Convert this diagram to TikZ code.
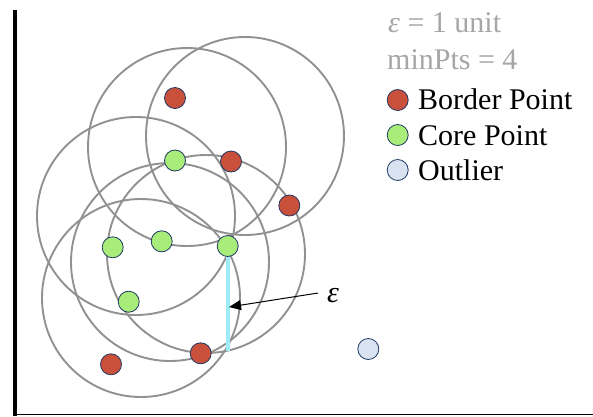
\documentclass[tikz,border=0pt]{standalone}
\usepackage{fontspec}
\setmainfont{Liberation Serif}
\usetikzlibrary{arrows.meta}
\definecolor{ringgray}{RGB}{145,145,145}
\definecolor{bordercol}{RGB}{201,80,58}
\definecolor{corecol}{RGB}{168,236,122}
\definecolor{outcol}{RGB}{217,226,241}
\definecolor{edgecol}{RGB}{32,56,100}
\definecolor{epscol}{RGB}{160,236,246}
\definecolor{txtgray}{RGB}{166,166,166}
\tikzset{
  ring/.style={circle,draw=ringgray,line width=1.9pt,minimum size=198pt,inner sep=0pt},
  pt/.style={circle,draw=edgecol,line width=0.8pt,minimum size=21pt,inner sep=0pt},
  bpt/.style={pt,fill=bordercol},
  cpt/.style={pt,fill=corecol},
  opt/.style={pt,fill=outcol},
  lbl/.style={anchor=base west,inner sep=0pt,font=\fontsize{30}{36}\selectfont},
  glbl/.style={lbl,text=txtgray}
}
\begin{document}
\begin{tikzpicture}[x=1pt,y=-1pt]
\useasboundingbox (0,0) rectangle (593,416);
% axes
\coordinate (ytop) at (15.3,10);
\coordinate (origin) at (15.3,414.7);
\coordinate (xend) at (593,414.7);
\draw[line width=4pt] (ytop) -- (15.3,416);
\draw[line width=1.5pt] (origin) -- (xend);
% epsilon neighbourhoods
\node[ring] (c1) at (187,147) {};
\node[ring] (c2) at (245,136) {};
\node[ring] (c3) at (136,216) {};
\node[ring] (c4) at (206,254) {};
\node[ring] (c5) at (170,262) {};
\node[ring] (c6) at (141,298) {};
% radius line
\coordinate (rend) at (228,351);
\draw[epscol,line width=3.5pt] (228,246) -- (rend);
% points
\node[bpt] (b1) at (175,98) {};
\node[cpt] (g1) at (175,160.5) {};
\node[bpt] (b2) at (231,161.5) {};
\node[bpt] (b3) at (289.3,205.5) {};
\node[cpt] (g2) at (112.7,247.3) {};
\node[cpt] (g3) at (161.7,241.3) {};
\node[cpt] (g4) at (227.7,246) {};
\node[cpt] (g5) at (128.7,301.7) {};
\node[bpt] (b4) at (200.7,353.3) {};
\node[bpt] (b5) at (111,364.3) {};
\node[opt] (o1) at (368.3,349) {};
% epsilon label and arrow
\node[lbl,anchor=west] (eps) at (327,296) {\itshape ε};
\coordinate (atip) at (229,307);
\draw[line width=1pt,-{Triangle[length=12pt,width=10pt]}] (318,293) -- (atip);
% legend
\node[glbl] (t1) at (388,32) {\itshape ε\upshape{} = 1 unit};
\node[glbl] (t2) at (387,69.5) {minPts = 4};
\node[bpt] (l1) at (397.7,100) {};
\node[cpt] (l2) at (397.7,135) {};
\node[opt] (l3) at (397.7,170) {};
\node[lbl] (t3) at (418,109) {Border Point};
\node[lbl] (t4) at (418,145) {Core Point};
\node[lbl] (t5) at (418,180) {Outlier};
\end{tikzpicture}
\end{document}
